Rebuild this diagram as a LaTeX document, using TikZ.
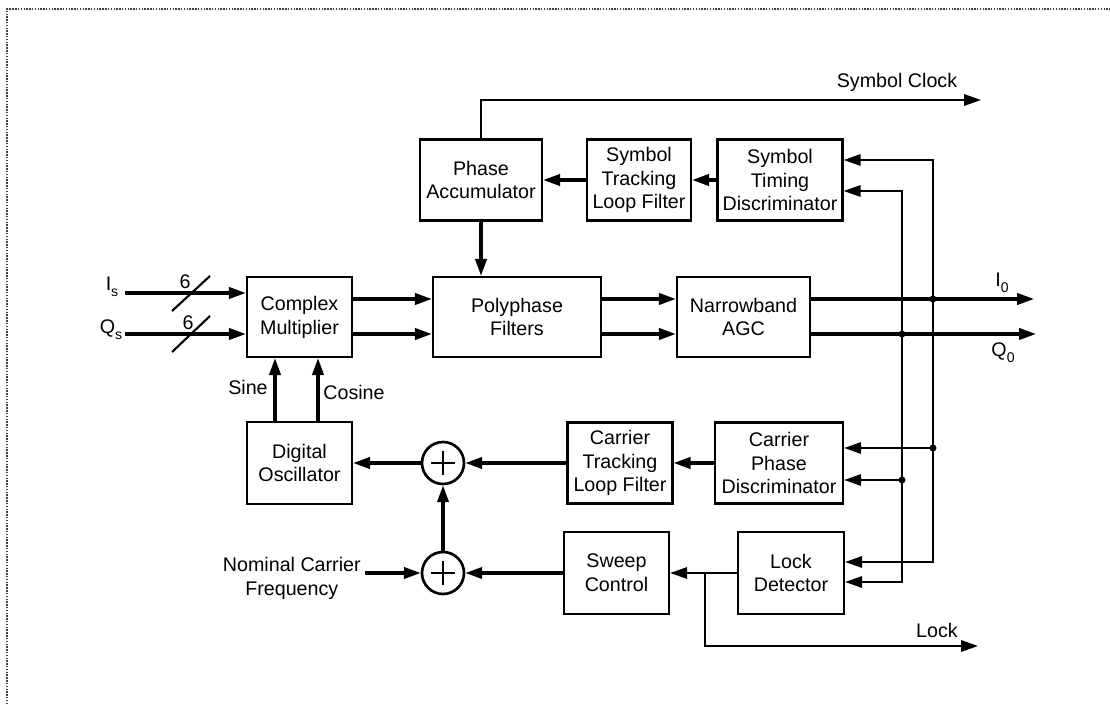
\documentclass[tikz,border=0pt]{standalone}
\usepackage{fontspec}
\setmainfont{Liberation Sans}
\usepackage{tikz}
\usetikzlibrary{arrows.meta,positioning}

\newcommand{\lowidx}[1]{\raisebox{-0.55ex}{\fontsize{10}{10}\selectfont #1}}

\tikzset{
  blk/.style={draw,line width=1.6pt,align=center,inner sep=0pt,
              font=\fontsize{14}{17}\selectfont},
  lbl/.style={inner sep=0pt,align=center,font=\fontsize{14}{17}\selectfont},
  sumnode/.style={draw,circle,line width=1.9pt,minimum size=1.05cm,inner sep=0pt,
              path picture={\draw[line width=1.9pt]
                ([xshift=-0.3cm]path picture bounding box.center) -- ++(0.6cm,0)
                ([yshift=-0.3cm]path picture bounding box.center) -- ++(0,0.6cm);}},
  bus/.style={line width=2.2pt},
  wire/.style={line width=1.5pt},
  framed/.style={line width=2pt,black!75,dash pattern=on 1pt off 1pt},
}

\begin{document}
\begin{tikzpicture}[x=0.025cm,y=0.025cm,line join=miter,
  >={Triangle[length=12pt,width=8pt]}]
\useasboundingbox (0,0) rectangle (1110,704);
\draw[framed] (7,0) -- (7,695) -- (1110,695);

% symbol timing loop
\node[blk,minimum width=3.05cm,minimum height=2.025cm] (PA) at (481,524) {Phase\\Accumulator};
\node[blk,minimum width=2.6cm,minimum height=2.025cm] (STLF) at (639,524) {Symbol\\Tracking\\Loop Filter};
\node[blk,minimum width=3.125cm,minimum height=2.025cm] (STD) at (780,524) {Symbol\\Timing\\Discriminator};

% signal path
\node[blk,minimum width=2.625cm,minimum height=2cm] (CM) at (299.5,387) {Complex\\Multiplier};
\node[blk,minimum width=4.2cm,minimum height=2cm] (PF) at (517,387) {Polyphase\\Filters};
\node[blk,minimum width=3.325cm,minimum height=2cm] (AGC) at (743.5,387) {Narrowband\\AGC};

% carrier loop
\node[blk,minimum width=2.625cm,minimum height=2.05cm] (DO) at (299.5,241) {Digital\\Oscillator};
\node[sumnode] (sum1) at (443,241) {};
\node[blk,minimum width=2.625cm,minimum height=2.025cm] (CTLF) at (620,241) {Carrier\\Tracking\\Loop Filter};
\node[blk,minimum width=3.2cm,minimum height=2.025cm] (CPD) at (779,241) {Carrier\\Phase\\Discriminator};

\node[sumnode] (sum2) at (443,131) {};
\node[blk,minimum width=2.625cm,minimum height=2.05cm] (SC) at (616.5,131) {Sweep\\Control};
\node[blk,minimum width=2.65cm,minimum height=2.05cm] (LD) at (791,131) {Lock\\Detector};

% inputs
\coordinate (Is) at (125,411);
\coordinate (Qs) at (125,370);
\draw[bus,->] (Is) -- (Is -| CM.west);
\draw[bus,->] (Qs) -- (Qs -| CM.west);
\draw[wire] (172,393) -- (210,428);
\draw[wire] (172,352) -- (210,388);
\node[lbl] (IsLab) at (112,417) {I\lowidx{s}};
\node[lbl] (QsLab) at (111,374) {Q\lowidx{s}};
\node[lbl] (IsW) at (185,422) {6};
\node[lbl] (QsW) at (188,381) {6};

% I and Q through the chain
\coordinate (Io) at (1034,405);
\coordinate (Qo) at (1036,370);
\draw[bus,->] (Io -| CM.east) -- (Io -| PF.west);
\draw[bus,->] (Qo -| CM.east) -- (Qo -| PF.west);
\draw[bus,->] (Io -| PF.east) -- (Io -| AGC.west);
\draw[bus,->] (Qo -| PF.east) -- (Qo -| AGC.west);
\draw[bus,->] (Io -| AGC.east) -- (Io);
\draw[bus,->] (Qo -| AGC.east) -- (Qo);
\node[lbl] (IoLab) at (1002,421) {I\lowidx{0}};
\node[lbl] (QoLab) at (1003,351) {Q\lowidx{0}};

% taps to the discriminators
\coordinate (dI) at (933,405);
\coordinate (dQ) at (902,370);
\coordinate (cI) at (933,256);
\coordinate (cQ) at (902,224);
\draw[wire,->] (dI) |- (STD.east |- 0,544);
\draw[wire,->] (dQ) |- (STD.east |- 0,513);
\draw[wire,->] (dI) |- (LD.east |- 0,142);
\draw[wire,->] (dQ) |- (LD.east |- 0,122);
\draw[wire,->] (cI) -- (cI -| CPD.east);
\draw[wire,->] (cQ) -- (cQ -| CPD.east);
\foreach \p in {dI,dQ,cI,cQ} \fill (\p) circle[radius=3.5];

% symbol loop
\draw[bus,->] (STD.west) -- (STLF.east);
\draw[bus,->] (STLF.west) -- (PA.east);
\draw[bus,->] (PA.south) -- (PA.south |- PF.north);
\coordinate (clk) at (981,604);
\draw[wire,->] (PA.north) |- (clk);
\node[lbl] (clkLab) at (897,622) {Symbol Clock};

% oscillator outputs
\coordinate (sinx) at (275,0);
\coordinate (cosx) at (318,0);
\draw[bus,->] (sinx |- DO.north) -- (sinx |- CM.south);
\draw[bus,->] (cosx |- DO.north) -- (cosx |- CM.south);
\node[lbl] (sinLab) at (248,317) {Sine};
\node[lbl] (cosLab) at (354,312) {Cosine};

% carrier loop
\draw[bus,->] (CPD.west) -- (CTLF.east);
\draw[bus,->] (CTLF.west) -- (sum1.east);
\draw[bus,->] (sum1.west) -- (DO.east);
\draw[bus,->] (sum2.north) -- (sum1.south);
\draw[bus,->] (SC.west) -- (sum2.east);
\coordinate (ncf) at (365,131);
\draw[bus,->] (ncf) -- (sum2.west);
\node[lbl,anchor=east] (ncfLab) at (361,126) {Nominal Carrier\\Frequency};

% lock
\draw[wire,->] (LD.west) -- (SC.east);
\coordinate (br) at (705,131);
\coordinate (lk) at (978,58);
\draw[wire,->] (br) |- (lk);
\node[lbl] (lkLab) at (937,74) {Lock};
\end{tikzpicture}
\end{document}
